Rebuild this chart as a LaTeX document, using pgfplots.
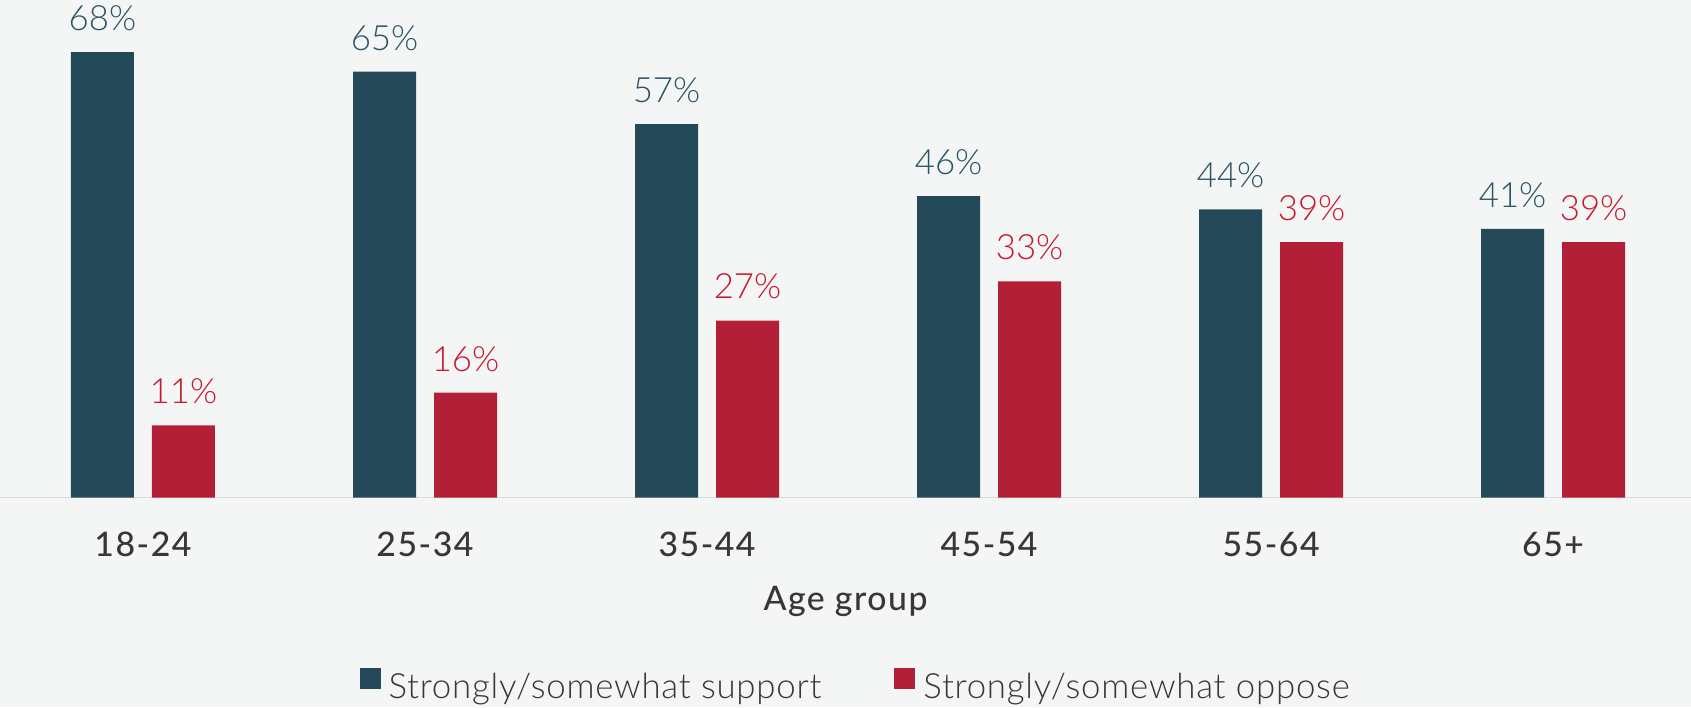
\documentclass[border=0pt]{standalone}
\usepackage{fontspec}
\setmainfont{Lato}
\newfontfamily\lightfont{Lato Light}
\newfontfamily\lightsp{Lato Light}[LetterSpace=2.2]
\newfontfamily\medfont{Lato Medium}[LetterSpace=4.5]
\usepackage{pgfplots}
\pgfplotsset{compat=1.18}
\definecolor{bg}{HTML}{F4F6F5}
\definecolor{supp}{HTML}{244A5A}
\definecolor{opp}{HTML}{B21F37}
\definecolor{supptxt}{HTML}{2C5363}
\definecolor{opptxt}{HTML}{C8172E}
\definecolor{lbl}{HTML}{3B3536}
\definecolor{axln}{HTML}{DCDCDC}
\begin{document}
\begin{tikzpicture}
\fill[bg] (0,0) rectangle (845.5pt,353.5pt);
\useasboundingbox (0,0) rectangle (845.5pt,353.5pt);
\begin{axis}[
  at={(0pt,104.75pt)}, anchor=south west,
  scale only axis, width=845.5pt, height=248.75pt,
  xmin=-0.507, xmax=5.489, ymin=0, ymax=75.95,
  clip=false,
  ybar=9pt, bar width=31.5pt,
  axis x line=bottom, axis y line=none,
  x axis line style={-, draw=axln, line width=0.9pt},
  xtick={0,1,2,3,4,5},
  xticklabels={18-24,25-34,35-44,45-54,55-64,65+},
  xtick style={draw=none}, major tick length=0pt,
  xticklabel style={anchor=base, yshift=-29.5pt, text=lbl, font=\medfont\fontsize{16.9}{20}\selectfont},
  xlabel={Age group},
  xlabel style={at={(axis description cs:0.5,0)}, anchor=base, yshift=-56.5pt, text=lbl, font=\medfont\fontsize{16.9}{20}\selectfont},
  nodes near coords={\pgfmathprintnumber[assume math mode=true, fixed, precision=0]{\pgfplotspointmeta}\%},
  every node near coord/.append style={anchor=south, inner sep=0pt, yshift=10.5pt, font=\lightfont\fontsize{17.4}{20}\selectfont},
  legend columns=2,
  legend image code/.code={\fill[#1,draw=none] (0pt,-1pt) rectangle (10.5pt,9.5pt);},
  legend style={at={(axis description cs:0.2124,-0.377)}, anchor=west, draw=none, fill=none, inner sep=0pt,
    nodes={inner sep=0pt}, text=lbl, font=\lightsp\fontsize{17.4}{20}\selectfont,
    /tikz/every odd column/.append style={column sep=4pt},
    /tikz/every even column/.append style={column sep=36.5pt}},
]
\addplot[fill=supp, draw=none, every node near coord/.append style={text=supptxt}] coordinates {(0,68) (1,65) (2,57) (3,46) (4,44) (5,41)};
\addlegendentry{Strongly/somewhat support}
\addplot[fill=opp, draw=none, every node near coord/.append style={text=opptxt}] coordinates {(0,11) (1,16) (2,27) (3,33) (4,39) (5,39)};
\addlegendentry{Strongly/somewhat oppose}
\end{axis}
\end{tikzpicture}
\end{document}
